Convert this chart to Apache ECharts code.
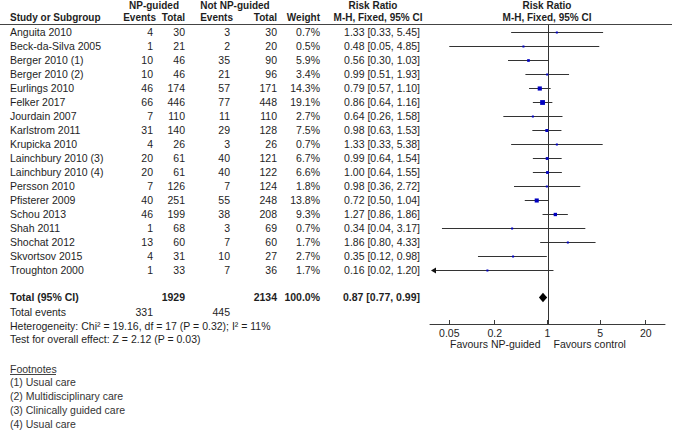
<!DOCTYPE html>
<html><head><meta charset="utf-8">
<script src="https://cdn.jsdelivr.net/npm/echarts@6/dist/echarts.min.js"></script>
<style>html,body{margin:0;padding:0;background:#fff}#c{width:674px;height:430px}</style>
</head><body><div id="c"></div>
<script>
const studies = ['Anguita 2010','Beck-da-Silva 2005','Berger 2010 (1)','Berger 2010 (2)','Eurlings 2010','Felker 2017','Jourdain 2007','Karlstrom 2011','Krupicka 2010','Lainchbury 2010 (3)','Lainchbury 2010 (4)','Persson 2010','Pfisterer 2009','Schou 2013','Shah 2011','Shochat 2012','Skvortsov 2015','Troughton 2000'];
const npEvents = [4,1,10,10,46,66,7,31,4,20,20,7,40,46,1,13,4,1];
const npTotal = [30,21,46,46,174,446,110,140,26,61,61,126,251,199,68,60,31,33];
const ctrlEvents = [3,2,35,21,57,77,11,29,3,40,40,7,55,38,3,7,10,7];
const ctrlTotal = [30,20,90,96,171,448,110,128,26,121,122,124,248,208,69,60,27,36];
const weights = [0.7,0.5,5.9,3.4,14.3,19.1,2.7,7.5,0.7,6.7,6.6,1.8,13.8,9.3,0.7,1.7,2.7,1.7];
const rr = [1.33,0.48,0.56,0.99,0.79,0.86,0.64,0.98,1.33,0.99,1.00,0.98,0.72,1.27,0.34,1.86,0.35,0.16];
const ciLow = [0.33,0.05,0.30,0.51,0.57,0.64,0.26,0.63,0.33,0.64,0.64,0.36,0.50,0.86,0.04,0.80,0.12,0.02];
const ciHigh = [5.45,4.85,1.03,1.93,1.10,1.16,1.58,1.53,5.38,1.54,1.55,2.72,1.04,1.86,3.17,4.33,0.98,1.20];
const totalLabel = 'Total (95% CI)';
const totalNp = 1929, totalCtrl = 2134, totalWeight = 100.0;
const totalRR = 0.87, totalLow = 0.77, totalHigh = 0.99;
const totalEventsNp = 331, totalEventsCtrl = 445;
const heterogeneityText = 'Heterogeneity: Chi\u00b2 = 19.16, df = 17 (P = 0.32); I\u00b2 = 11%';
const overallText = 'Test for overall effect: Z = 2.12 (P = 0.03)';
const footnotes = ['(1) Usual care','(2) Multidisciplinary care','(3) Clinically guided care','(4) Usual care'];
const tickValues = [0.05, 0.2, 1, 5, 20];
const tickLabels = ['0.05','0.2','1','5','20'];
const favoursLeft = 'Favours NP-guided', favoursRight = 'Favours control';

const FONT = '"Liberation Sans", Arial, Helvetica, sans-serif';
const TXT = '#1e1e1e';
const xMin = 1/36, xMax = 36;
const yMin = -0.5, yMax = 20.9;
const totalRow = 19;

const chart = echarts.init(document.getElementById('c'), null, {renderer: 'svg'});

const ciData = studies.map((s, i) => [rr[i], i, ciLow[i], ciHigh[i], weights[i]]);

chart.setOption({
  animation: false,
  grid: {left: 430, right: 9, top: 25, bottom: 106},
  xAxis: {
    type: 'log', logBase: 10, min: xMin, max: xMax, position: 'bottom',
    splitLine: {show: false}, minorTick: {show: false},
    axisLine: {show: true, onZero: false, lineStyle: {color: '#3a3a3a', width: 1}},
    axisTick: {show: true, inside: true, length: 4, customValues: tickValues, lineStyle: {color: '#3a3a3a'}},
    axisLabel: {
      customValues: tickValues, margin: 3, color: TXT, fontFamily: FONT, fontSize: 10.5,
      formatter: v => {
        let best = 0;
        tickValues.forEach((t, k) => { if (Math.abs(Math.log(t) - Math.log(v)) < Math.abs(Math.log(tickValues[best]) - Math.log(v))) best = k; });
        return tickLabels[best];
      }
    }
  },
  yAxis: {type: 'value', min: yMin, max: yMax, inverse: true, show: false},
  series: [
    {
      type: 'custom', silent: true,
      data: [[1, 0]],
      renderItem: (params, api) => {
        const cs = params.coordSys;
        const x = Math.round(api.coord([1, 0])[0]) + 0.5;
        return {type: 'line', shape: {x1: x, y1: cs.y, x2: x, y2: cs.y + cs.height}, style: {stroke: '#333', lineWidth: 1}};
      }
    },
    {
      type: 'custom', silent: true,
      data: ciData,
      renderItem: (params, api) => {
        const i = api.value(1);
        const p = api.coord([api.value(0), i]);
        const y = Math.round(p[1]) + 0.5;
        const lo = api.value(2), hi = api.value(3), w = api.value(4);
        const x1 = api.coord([Math.max(lo, xMin), i])[0];
        const x2 = api.coord([Math.min(hi, xMax), i])[0];
        const children = [];
        if (lo < xMin) {
          children.push({type: 'line', shape: {x1: x1 + 3, y1: y, x2: x2, y2: y}, style: {stroke: '#333', lineWidth: 1}});
          children.push({type: 'polygon', shape: {points: [[x1 + 1, y], [x1 + 6, y - 3], [x1 + 6, y + 3]]}, style: {fill: '#111'}});
        } else {
          children.push({type: 'line', shape: {x1: x1, y1: y, x2: x2, y2: y}, style: {stroke: '#333', lineWidth: 1}});
        }
        const s = Math.max(2, 1.1 * Math.sqrt(w));
        children.push({type: 'rect', shape: {x: p[0] - s / 2, y: y - s / 2, width: s, height: s}, style: {fill: '#0000c0'}});
        return {type: 'group', children};
      }
    },
    {
      type: 'custom', silent: true,
      data: [[totalRR, totalRow, totalLow, totalHigh]],
      renderItem: (params, api) => {
        const i = api.value(1);
        const c = api.coord([api.value(0), i]);
        const l = api.coord([api.value(2), i])[0];
        const r = api.coord([api.value(3), i])[0];
        return {type: 'polygon', shape: {points: [[l, c[1]], [c[0], c[1] - 4.8], [r, c[1]], [c[0], c[1] + 4.8]]}, style: {fill: '#000'}};
      }
    }
  ]
});

const rowY = i => chart.convertToPixel({yAxisIndex: 0}, i);
function T(text, x, y, align, bold, size, color) {
  return {
    type: 'text', x: x, y: y, silent: true,
    style: {text: String(text), font: (bold ? 'bold ' : '') + (size || 10.5) + 'px ' + FONT, fill: color || TXT,
      align: align, textAlign: align, verticalAlign: 'middle', textVerticalAlign: 'middle'}
  };
}
const col = {name: 10, npE: 153, npT: 185, cE: 230, cT: 277, w: 320, ci: 420};
const els = [];
// headers
els.push(T('NP-guided', 154, 5.5, 'center', true, 10));
els.push(T('Not NP-guided', 235, 5.5, 'center', true, 10));
els.push(T('Risk Ratio', 373, 5.5, 'center', true, 10));
els.push(T('Risk Ratio', 547, 5.5, 'center', true, 10));
els.push(T('Study or Subgroup', col.name, 17.5, 'left', true, 10));
els.push(T('Events', 156, 17.5, 'right', true, 10));
els.push(T('Total', 185, 17.5, 'right', true, 10));
els.push(T('Events', 233, 17.5, 'right', true, 10));
els.push(T('Total', 277, 17.5, 'right', true, 10));
els.push(T('Weight', 320, 17.5, 'right', true, 10));
els.push(T('M-H, Fixed, 95% CI', 378, 17.5, 'center', true, 10));
els.push(T('M-H, Fixed, 95% CI', 547, 17.5, 'center', true, 10));
els.push({type: 'line', silent: true, shape: {x1: 0, y1: 24.5, x2: 672, y2: 24.5}, style: {stroke: '#444', lineWidth: 1}});
// study rows
studies.forEach((s, i) => {
  const y = rowY(i);
  els.push(T(s, col.name, y, 'left'));
  els.push(T(npEvents[i], col.npE, y, 'right'));
  els.push(T(npTotal[i], col.npT, y, 'right'));
  els.push(T(ctrlEvents[i], col.cE, y, 'right'));
  els.push(T(ctrlTotal[i], col.cT, y, 'right'));
  els.push(T(weights[i].toFixed(1) + '%', col.w, y, 'right'));
  els.push(T(rr[i].toFixed(2) + ' [' + ciLow[i].toFixed(2) + ', ' + ciHigh[i].toFixed(2) + ']', col.ci, y, 'right'));
});
// total row
let y = rowY(totalRow);
els.push(T(totalLabel, col.name, y, 'left', true));
els.push(T(totalNp, col.npT, y, 'right', true));
els.push(T(totalCtrl, col.cT, y, 'right', true));
els.push(T(totalWeight.toFixed(1) + '%', col.w, y, 'right', true));
els.push(T(totalRR.toFixed(2) + ' [' + totalLow.toFixed(2) + ', ' + totalHigh.toFixed(2) + ']', col.ci, y, 'right', true));
y = rowY(20.05);
els.push(T('Total events', col.name, y, 'left'));
els.push(T(totalEventsNp, col.npE, y, 'right'));
els.push(T(totalEventsCtrl, col.cE, y, 'right'));
els.push(T(heterogeneityText, col.name, rowY(21.05), 'left'));
els.push(T(overallText, col.name, rowY(22), 'left'));
const fy = rowY(24.1);
els.push(T('Footnotes', col.name, fy, 'left', false, 10.5, '#333'));
els.push({type: 'line', silent: true, shape: {x1: 10, y1: Math.round(fy) + 5.5, x2: 56, y2: Math.round(fy) + 5.5}, style: {stroke: '#444', lineWidth: 1}});
footnotes.forEach((f, k) => els.push(T(f, col.name, rowY(25.05 + k), 'left', false, 10.5, '#333')));
// favours labels
const oneX = chart.convertToPixel({xAxisIndex: 0}, 1);
els.push(T(favoursLeft, oneX - 7, 343.5, 'right'));
els.push(T(favoursRight, oneX + 6, 343.5, 'left'));
chart.setOption({graphic: {elements: els}});
</script>
</body></html>
